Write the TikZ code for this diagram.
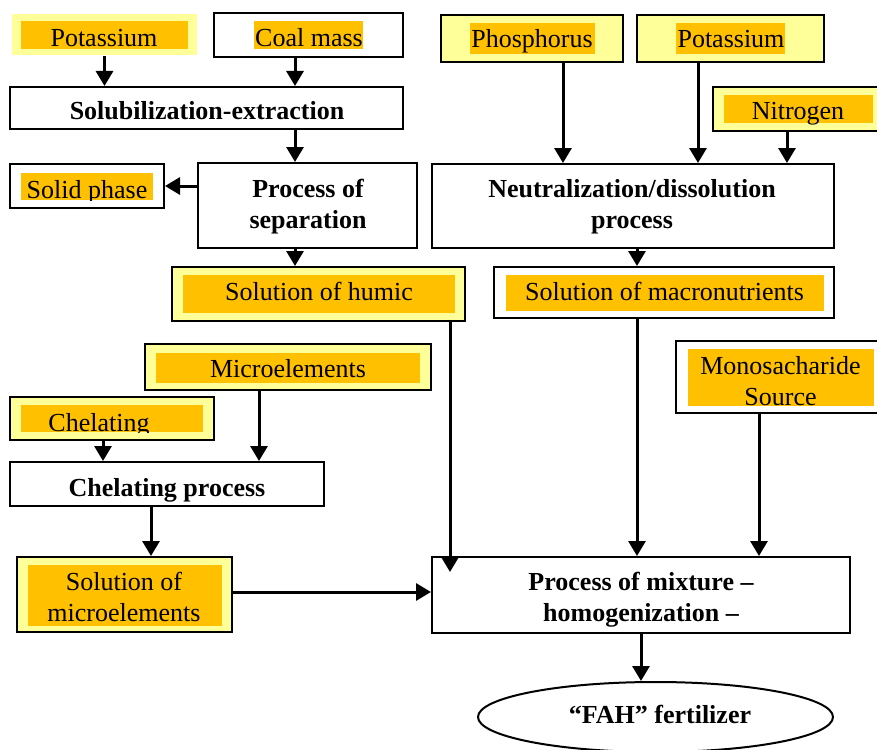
\documentclass[tikz,border=0pt]{standalone}
\usepackage{fontspec}
\setmainfont{Liberation Serif}
\usetikzlibrary{arrows.meta, positioning, shapes.geometric, calc}
\definecolor{paleyellow}{HTML}{FFFF99}
\definecolor{hlorange}{HTML}{FFC000}
\tikzset{
    srcbox/.style={draw, line width=2pt, fill=paleyellow, inner sep=0pt},
    plainbox/.style={draw, line width=2pt, fill=white, inner sep=0pt},
    procbox/.style={draw, line width=2pt, fill=white, inner sep=0pt},
    hl/.style={fill=hlorange, inner sep=0pt},
    txt/.style={anchor=base, inner sep=0pt, align=center},
    btxt/.style={txt, font=\bfseries\fontsize{26}{31}\selectfont},
    line/.style={-{Triangle[width=17pt,length=15pt]}, line width=3pt},
    every node/.style={font=\fontsize{26}{31}\selectfont}
}

\begin{document}
\begin{tikzpicture}[x=1pt,y=-1pt]
\useasboundingbox (0,0) rectangle (877,749);

% Humic branch
\node[srcbox, draw=none, minimum width=185, minimum height=41] (potL) at (104.5,34.5) {};
\node[hl, minimum width=167, minimum height=28] (potLhl) at (104.5,35) {};
\node[txt] (potLt) at (104,47) {Potassium};

\node[plainbox, minimum width=189, minimum height=44] (coal) at (308.5,35) {};
\node[hl, minimum width=109, minimum height=28] (coalhl) at (308.5,35) {};
\node[txt] (coalt) at (309,47) {Coal mass};

\node[procbox, minimum width=393, minimum height=42] (solub) at (206.5,108) {};
\node[btxt] (solubt) at (207,119) {Solubilization-extraction};

\node[procbox, minimum width=219, minimum height=85] (sep) at (307.5,205.5) {};
\node[btxt] (sept) at (308,228) {Process of\\separation};

\node[plainbox, minimum width=154, minimum height=44] (solid) at (87,186) {};
\node[hl, minimum width=132, minimum height=27] (solidhl) at (87,186.5) {};
\begin{scope}
\clip (solidhl.south west) rectangle (solidhl.north east);
\node[txt] (solidt) at (87,198) {Solid phase};
\end{scope}

\node[srcbox, minimum width=293, minimum height=54] (humic) at (318.5,294) {};
\node[hl, minimum width=272, minimum height=38] (humichl) at (319,294) {};
\node[txt] (humict) at (319,300) {Solution of humic};

% Microelement branch
\node[srcbox, minimum width=286, minimum height=46] (micro) at (288,367) {};
\node[hl, minimum width=264, minimum height=30] (microhl) at (288,368) {};
\node[txt] (microt) at (288,377) {Microelements};

\node[srcbox, minimum width=204, minimum height=43] (chel) at (112,418.5) {};
\node[hl, minimum width=182, minimum height=27] (chelhl) at (112,418.5) {};
\begin{scope}
\clip (chelhl.south west) rectangle (chelhl.north east);
\node[txt] (chelt) at (99,431) {Chelating};
\end{scope}

\node[procbox, minimum width=314, minimum height=44] (chelproc) at (167,484) {};
\node[btxt] (chelproct) at (167,496) {Chelating process};

\node[srcbox, minimum width=215, minimum height=75] (solmicro) at (124.5,594.5) {};
\node[hl, minimum width=194, minimum height=61] (solmicrohl) at (125,595.5) {};
\node[txt] (solmicrot) at (124,621) {Solution of\\microelements};

% Macronutrient branch
\node[srcbox, minimum width=182, minimum height=47] (phos) at (532,38.5) {};
\node[hl, minimum width=125, minimum height=31] (phoshl) at (532.5,38.5) {};
\node[txt] (phost) at (532,48) {Phosphorus};

\node[srcbox, minimum width=187, minimum height=47] (potR) at (730.5,38.5) {};
\node[hl, minimum width=109, minimum height=31] (potRhl) at (730.5,38.5) {};
\node[txt] (potRt) at (731,48) {Potassium};

\node[srcbox, minimum width=166, minimum height=44] (nitro) at (796,109) {};
\node[hl, minimum width=149, minimum height=28] (nitrohl) at (798.5,109) {};
\node[txt] (nitrot) at (798,119) {Nitrogen};

\node[procbox, minimum width=402, minimum height=84] (neutr) at (633,206) {};
\node[btxt] (neutrt) at (632,228) {Neutralization/dissolution\\process};

\node[plainbox, minimum width=340, minimum height=51] (macro) at (664,292.5) {};
\node[hl, minimum width=318, minimum height=36] (macrohl) at (665,293) {};
\node[txt] (macrot) at (664.5,300) {Solution of macronutrients};

\node[plainbox, minimum width=203, minimum height=72] (mono) at (777.5,377) {};
\node[hl, minimum width=186, minimum height=57] (monohl) at (781,377.5) {};
\begin{scope}
\clip (monohl.south west) rectangle (monohl.north east);
\node[txt] (monot) at (780.5,405) {Monosacharide\\Source};
\end{scope}

% Mixing and product
\node[procbox, minimum width=418, minimum height=76] (mix) at (641,595) {};
\node[btxt] (mixt) at (641,621) {Process of mixture --\\homogenization --};

\node[draw, ellipse, line width=2pt, fill=white, inner sep=0pt, minimum width=355, minimum height=70] (fah) at (655.5,717) {};
\node[btxt] (faht) at (660,723) {``FAH'' fertilizer};

% Connectors
\draw[line] (potL.south) -- (potL.south |- solub.north);
\draw[line] ([xshift=-13.5pt]coal.south) -- ([xshift=-13.5pt]coal.south |- solub.north);
\draw[line] ([xshift=-13.5pt]coal.south |- solub.south) -- ([xshift=-13.5pt]coal.south |- sep.north);
\draw[line] (sep.west |- solid.east) -- (solid.east);
\draw[line] ([xshift=-12.5pt]sep.south) -- ([xshift=-12.5pt]sep.south |- humic.north);
\draw[line] ([xshift=131.5pt]humic.south) -- ($([xshift=131.5pt]humic.south |- mix.north)+(0,16)$);

\draw[line] ([xshift=-29pt]micro.south) -- ([xshift=-29pt]micro.south |- chelproc.north);
\draw[line] ([xshift=-9pt]chel.south) -- ([xshift=-9pt]chel.south |- chelproc.north);
\draw[line] ([xshift=-16pt]chelproc.south) -- ([xshift=-16pt]chelproc.south |- solmicro.north);
\draw[line] ([yshift=2.5pt]solmicro.east) -- ([yshift=2.5pt]solmicro.east -| mix.west);

\draw[line] ([xshift=31pt]phos.south) -- ([xshift=31pt]phos.south |- neutr.north);
\draw[line] ([xshift=-32.5pt]potR.south) -- ([xshift=-32.5pt]potR.south |- neutr.north);
\draw[line] ([xshift=-9pt]nitro.south) -- ([xshift=-9pt]nitro.south |- neutr.north);
\draw[line] ([xshift=4pt]neutr.south) -- ([xshift=4pt]neutr.south |- macro.north);
\draw[line] ([xshift=-27pt]macro.south) -- ([xshift=-27pt]macro.south |- mix.north);
\draw[line] ([xshift=-18.5pt]mono.south) -- ([xshift=-18.5pt]mono.south |- mix.north);
\draw[line] (mix.south) -- (mix.south |- fah.north);
\end{tikzpicture}
\end{document}
